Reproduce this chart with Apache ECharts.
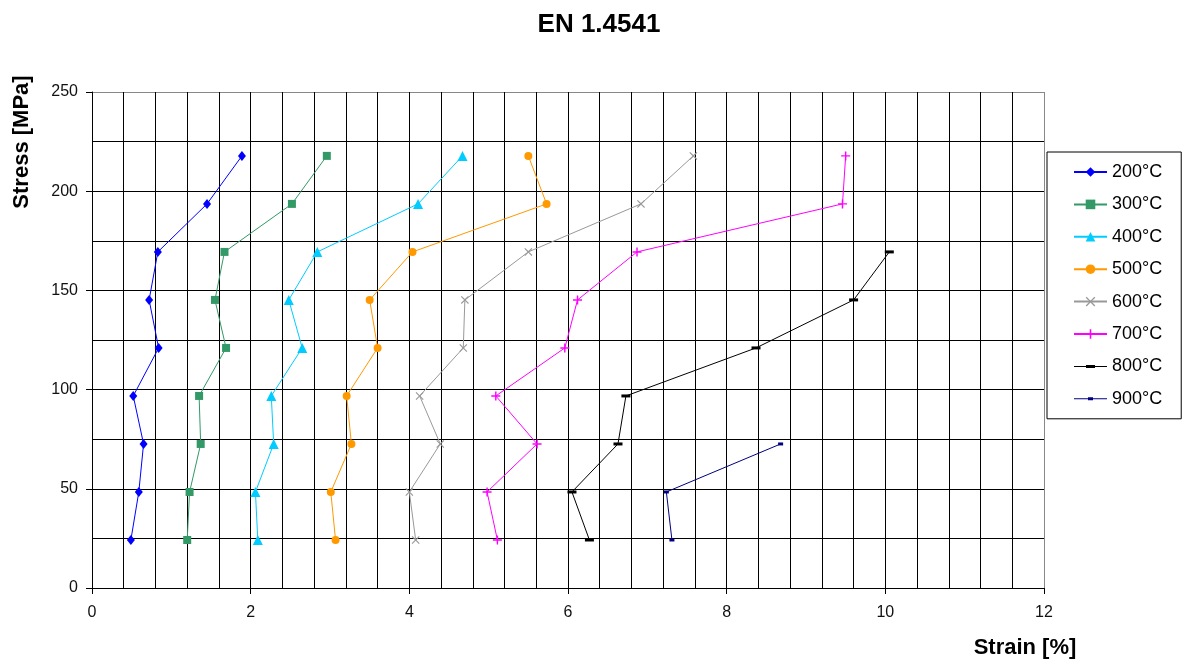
<!DOCTYPE html>
<html>
<head>
<meta charset="utf-8">
<script src="https://cdn.jsdelivr.net/npm/echarts@6/dist/echarts.min.js"></script>
<style>html,body{margin:0;padding:0;background:#fff}#c{width:1184px;height:661px}</style>
</head>
<body>
<div id="c"></div>
<script>
const stress = [24.2, 48.4, 72.6, 96.8, 121, 145.2, 169.4, 193.6, 217.8];
const temps = ['200°C','300°C','400°C','500°C','600°C','700°C','800°C','900°C'];
const strain200 = [0.49, 0.59, 0.65, 0.52, 0.84, 0.72, 0.83, 1.45, 1.89];
const strain300 = [1.20, 1.23, 1.37, 1.35, 1.69, 1.55, 1.67, 2.52, 2.96];
const strain400 = [2.09, 2.06, 2.29, 2.26, 2.65, 2.48, 2.84, 4.11, 4.67];
const strain500 = [3.07, 3.01, 3.27, 3.21, 3.60, 3.50, 4.04, 5.73, 5.50];
const strain600 = [4.08, 4.00, 4.39, 4.13, 4.68, 4.70, 5.50, 6.92, 7.58];
const strain700 = [5.11, 4.98, 5.61, 5.09, 5.96, 6.12, 6.87, 9.46, 9.50];
const strain800 = [6.27, 6.05, 6.63, 6.73, 8.37, 9.60, 10.05];
const strain900 = [7.31, 7.24, 8.68];
const xTicks = [0, 2, 4, 6, 8, 10, 12];
const yTicks = [0, 50, 100, 150, 200, 250];

const FONT = 'Liberation Sans, Arial, sans-serif';
const strains = [strain200, strain300, strain400, strain500, strain600, strain700, strain800, strain900];
const colors = ['#0000FF', '#339966', '#00CCFF', '#FF9900', '#999999', '#FF00FF', '#000000', '#000080'];
const symbols = [
  'diamond', 'rect', 'triangle', 'circle',
  'path://M0,1L1,0L5,4L9,0L10,1L6,5L10,9L9,10L5,6L1,10L0,9L4,5Z',
  'path://M4.2,0H5.8V4.2H10V5.8H5.8V10H4.2V5.8H0V4.2H4.2Z',
  'rect', 'rect'
];
const sizes = [[8, 10], 8, 10, 8, 8, 9, [9, 3], [5, 3]];

const series = temps.map((t, i) => ({
  name: t,
  type: 'line',
  data: strains[i].map((s, k) => [s, stress[k]]),
  symbol: symbols[i],
  symbolSize: sizes[i],
  showSymbol: true,
  lineStyle: { color: colors[i], width: 1 },
  itemStyle: { color: colors[i] },
  emphasis: { disabled: true },
  z: 10
}));

const legendData = temps.map((t, i) => {
  if (i === 6) return { name: t, icon: 'path://M0,0L0,0M0,5.5H33V6.5H0ZM12,4.5H21V7.5H12ZM33,12L33,12' };
  if (i === 7) return { name: t, icon: 'path://M0,0L0,0M0,5.5H33V6.5H0ZM14,4.5H19V7.5H14ZM33,12L33,12' };
  return t;
});

const chart = echarts.init(document.getElementById('c'), null, { renderer: 'canvas' });
chart.setOption({
  animation: false,
  backgroundColor: '#fff',
  title: {
    text: 'EN 1.4541',
    left: 594, top: 7,
    textAlign: 'center',
    textStyle: { fontFamily: FONT, fontWeight: 'bold', fontSize: 26, color: '#000' }
  },
  grid: { left: 92, right: 140, top: 92, bottom: 73, containLabel: false },
  legend: {
    orient: 'vertical',
    left: 1047, top: 152,
    padding: [11, 19, 11, 26],
    itemWidth: 33, itemHeight: 12, itemGap: 14.4,
    borderColor: '#000', borderWidth: 1, backgroundColor: '#fff',
    textStyle: { fontFamily: FONT, fontSize: 18, color: '#000' },
    data: legendData
  },
  xAxis: {
    type: 'value', min: xTicks[0], max: xTicks[xTicks.length - 1], interval: 2,
    axisLine: { show: true, onZero: false, lineStyle: { color: '#000', width: 1 } },
    axisTick: { show: true, inside: false, length: 6, lineStyle: { color: '#000' } },
    axisLabel: { fontFamily: FONT, fontSize: 16, color: '#111', margin: 17 },
    splitLine: { show: true, lineStyle: { color: ['#000', '#000', '#000', '#000', '#000', '#000', '#888'], width: 1 } },
    minorTick: { show: false, splitNumber: 5 },
    minorSplitLine: { show: true, lineStyle: { color: '#000', width: 1 } }
  },
  yAxis: {
    type: 'value', min: yTicks[0], max: yTicks[yTicks.length - 1], interval: 50,
    axisLine: { show: true, onZero: false, lineStyle: { color: '#000', width: 1 } },
    axisTick: { show: true, inside: false, length: 6, lineStyle: { color: '#000' } },
    axisLabel: { fontFamily: FONT, fontSize: 16, color: '#111', margin: 14 },
    splitLine: { show: true, lineStyle: { color: ['#000', '#000', '#000', '#000', '#000', '#888'], width: 1 } },
    minorTick: { show: false, splitNumber: 2 },
    minorSplitLine: { show: true, lineStyle: { color: '#000', width: 1 } }
  },
  graphic: [
    {
      type: 'text', x: 22, y: 142, rotation: Math.PI / 2,
      style: { text: 'Stress [MPa]', font: 'bold 22px ' + FONT, fill: '#000', textAlign: 'center', textVerticalAlign: 'middle' }
    },
    {
      type: 'text', x: 1025, y: 648,
      style: { text: 'Strain [%]', font: 'bold 22px ' + FONT, fill: '#000', textAlign: 'center', textVerticalAlign: 'middle' }
    }
  ],
  series: series
});
</script>
</body>
</html>
